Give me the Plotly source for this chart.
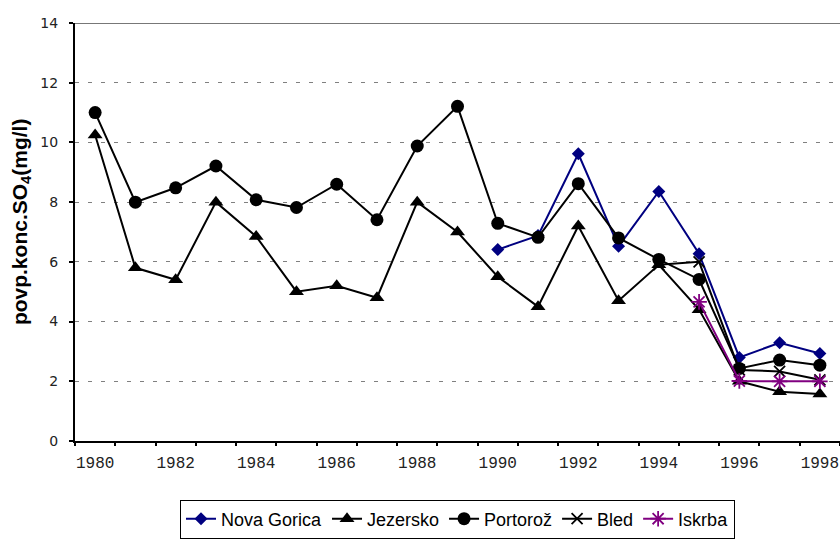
import plotly.graph_objects as go

# Mean annual sulphate concentration in precipitation, by station
years = list(range(1980, 1999))
nova_gorica = [None] * 10 + [6.41, 6.88, 9.62, 6.52, 8.36, 6.27, 2.8, 3.29, 2.93]
jezersko = [10.25, 5.8, 5.4, 8.0, 6.85, 5.0, 5.2, 4.8, 8.0, 7.0,
            5.5, 4.5, 7.2, 4.7, 5.9, 4.4, 2.0, 1.65, 1.57]
portoroz = [11.0, 8.0, 8.48, 9.21, 8.08, 7.82, 8.6, 7.41, 9.88, 11.21,
            7.29, 6.82, 8.62, 6.8, 6.08, 5.41, 2.43, 2.71, 2.54]
bled = [None] * 14 + [5.9, 6.0, 2.38, 2.33, 2.05]
iskrba = [None] * 15 + [4.66, 2.01, 2.0, 2.0]

x_labels = list(range(1980, 1999, 2))
y_ticks = list(range(0, 15, 2))

NAVY = "#000080"
PURPLE = "#800080"

fig = go.Figure()

fig.add_trace(go.Scatter(
    x=years, y=nova_gorica, name="Nova Gorica", mode="lines+markers",
    line=dict(color=NAVY, width=2),
    marker=dict(symbol="diamond", size=10, color=NAVY),
))
fig.add_trace(go.Scatter(
    x=years, y=jezersko, name="Jezersko", mode="lines+markers",
    line=dict(color="black", width=2),
    marker=dict(symbol="triangle-up", size=13, color="black"),
))
fig.add_trace(go.Scatter(
    x=years, y=portoroz, name="Portorož", mode="lines+markers",
    line=dict(color="black", width=2),
    marker=dict(symbol="circle", size=13, color="black"),
))
fig.add_trace(go.Scatter(
    x=years, y=bled, name="Bled", mode="lines+markers",
    line=dict(color="black", width=2),
    marker=dict(symbol="x-thin", size=11, color="black",
                line=dict(color="black", width=1.8)),
))
fig.add_trace(go.Scatter(
    x=years, y=iskrba, name="Iskrba", mode="lines+markers",
    line=dict(color=PURPLE, width=2),
    marker=dict(symbol="asterisk", size=13, color=PURPLE,
                line=dict(color=PURPLE, width=1.8)),
))

# invisible trace that puts the category-boundary tick marks on xaxis2
fig.add_trace(go.Scatter(x=[1979.5], y=[None], xaxis="x2", showlegend=False,
                         hoverinfo="skip"))

fig.update_layout(
    width=840, height=539,
    margin=dict(l=75, r=0, t=23, b=96),
    paper_bgcolor="white", plot_bgcolor="white",
    showlegend=True,
    xaxis=dict(
        range=[1979.5, 1998.5], tickmode="array", tickvals=x_labels,
        ticktext=[str(v) for v in x_labels], ticks="",
        showgrid=False, zeroline=False,
        showline=True, linecolor="black", linewidth=2,
        tickfont=dict(family="Liberation Mono", size=16, color="#222"),
        ticklabelstandoff=6,
    ),
    xaxis2=dict(
        overlaying="x", anchor="y", range=[1979.5, 1998.5],
        tickmode="array", tickvals=[y + 0.5 for y in range(1979, 1999)],
        ticks="outside", ticklen=4, tickwidth=1.5, tickcolor="black",
        showticklabels=False, showgrid=False, zeroline=False, showline=False,
    ),
    yaxis=dict(
        range=[0, 14], tickmode="array", tickvals=y_ticks,
        ticks="outside", ticklen=4, tickwidth=1.5, tickcolor="black",
        showline=True, linecolor="black", linewidth=2,
        showgrid=True, gridcolor="#808080", gridwidth=1.3, griddash="4px,9px",
        zeroline=False,
        tickfont=dict(family="DejaVu Sans", size=14, color="#222"),
        ticklabelstandoff=8,
    ),
    legend=dict(
        orientation="h", x=0.5, xanchor="center", y=-0.14, yanchor="top",
        bordercolor="black", borderwidth=1, bgcolor="white",
        font=dict(family="Liberation Sans", size=18, color="black"),
    ),
    shapes=[dict(type="line", xref="paper", yref="y", x0=0, x1=1, y0=14, y1=14,
                 line=dict(color="#777777", width=2))],
    annotations=[dict(
        text="<b>povp.konc.SO<sub>4</sub>(mg/l)</b>", textangle=-90,
        xref="paper", yref="paper", x=-0.0706, y=0.526,
        xanchor="center", yanchor="middle", showarrow=False,
        font=dict(family="Liberation Sans", size=21, color="black"),
    )],
)

fig.write_html("out.html")
